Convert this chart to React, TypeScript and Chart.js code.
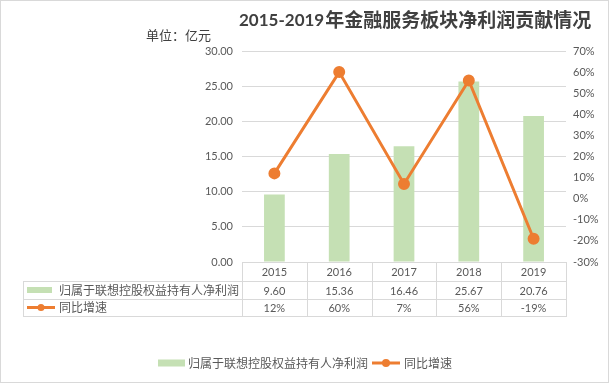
import React, { useEffect, useRef } from "react";
import { Chart, registerables } from "chart.js";

Chart.register(...registerables);

const categories = ["2015", "2016", "2017", "2018", "2019"];
const profitValues = [9.6, 15.36, 16.46, 25.67, 20.76];
const growthValues = [12, 60, 7, 56, -19];
const profitLabel = "归属于联想控股权益持有人净利润";
const growthLabel = "同比增速";
const titleYears = "2015-2019";
const titleText = "年金融服务板块净利润贡献情况";
const unitText = "单位：亿元";

const GREEN = "#C5E0B4";
const ORANGE = "#ED7D31";
const GRID = "#D9D9D9";
const TEXT = "#595959";
const NUM_FONT = "11px Lato, 'Noto Sans CJK SC'";
const CJK_FONT = "12px 'Noto Sans CJK SC'";

const tablePlugin = {
  id: "tablePlugin",
  beforeDraw(chart: any) {
    const { ctx, width, height } = chart;
    ctx.save();
    ctx.fillStyle = "#ffffff";
    ctx.fillRect(0, 0, width, height);
    ctx.restore();
  },
  afterDraw(chart: any) {
    const { ctx, chartArea, scales } = chart;
    const x = scales.x;
    const n = categories.length;
    const colW = (chartArea.right - chartArea.left) / n;
    const top = chartArea.bottom;
    const rows = [top, top + 19, top + 37, top + 54];
    const tableLeft = 23;
    ctx.save();
    // outer border
    ctx.strokeStyle = GRID;
    ctx.lineWidth = 1;
    ctx.strokeRect(0.5, 0.5, chart.width - 1, chart.height - 1);

    // table lines
    ctx.beginPath();
    for (let i = 0; i <= n; i++) {
      const px = Math.round(chartArea.left + i * colW) + 0.5;
      ctx.moveTo(px, rows[0]);
      ctx.lineTo(px, rows[3]);
    }
    ctx.moveTo(tableLeft + 0.5, rows[1]);
    ctx.lineTo(tableLeft + 0.5, rows[3]);
    for (let r = 1; r <= 3; r++) {
      ctx.moveTo(tableLeft, rows[r] + 0.5);
      ctx.lineTo(Math.round(chartArea.right) + 1, rows[r] + 0.5);
    }
    ctx.stroke();

    // table text
    ctx.fillStyle = TEXT;
    ctx.font = NUM_FONT;
    ctx.textAlign = "center";
    ctx.textBaseline = "middle";
    categories.forEach((c, i) => {
      const cx = x.getPixelForValue(i);
      ctx.fillText(c, cx, (rows[0] + rows[1]) / 2 + 1);
      ctx.fillText(profitValues[i].toFixed(2), cx, (rows[1] + rows[2]) / 2 + 1);
      ctx.fillText(growthValues[i] + "%", cx, (rows[2] + rows[3]) / 2 + 1);
    });

    // row keys
    ctx.textAlign = "left";
    ctx.font = CJK_FONT;
    const y2 = (rows[1] + rows[2]) / 2;
    const y3 = (rows[2] + rows[3]) / 2;
    ctx.fillStyle = GREEN;
    ctx.fillRect(27, y2 - 3, 25, 6);
    ctx.fillStyle = TEXT;
    ctx.fillText(profitLabel, 59, y2);
    ctx.strokeStyle = ORANGE;
    ctx.lineWidth = 3;
    ctx.beginPath();
    ctx.moveTo(27, y3);
    ctx.lineTo(55, y3);
    ctx.stroke();
    ctx.fillStyle = ORANGE;
    ctx.beginPath();
    ctx.arc(41, y3, 3.5, 0, Math.PI * 2);
    ctx.fill();
    ctx.fillStyle = TEXT;
    ctx.fillText(growthLabel, 59, y3);

    // bottom legend
    const ly = 363;
    ctx.fillStyle = GREEN;
    ctx.fillRect(158, ly - 3.5, 27, 7);
    ctx.fillStyle = TEXT;
    ctx.fillText(profitLabel, 188, ly);
    const w1 = ctx.measureText(profitLabel).width;
    const lx = 188 + w1 + 4;
    ctx.strokeStyle = ORANGE;
    ctx.lineWidth = 3;
    ctx.beginPath();
    ctx.moveTo(lx, ly);
    ctx.lineTo(lx + 28, ly);
    ctx.stroke();
    ctx.fillStyle = ORANGE;
    ctx.beginPath();
    ctx.arc(lx + 14, ly, 4, 0, Math.PI * 2);
    ctx.fill();
    ctx.fillStyle = TEXT;
    ctx.fillText(growthLabel, lx + 32, ly);

    // unit text
    ctx.fillStyle = "#404040";
    ctx.font = "13px 'Noto Sans CJK SC'";
    ctx.fillText(unitText, 146, 35);

    // title
    ctx.fillStyle = "#404040";
    ctx.font = "bold 17px Lato";
    ctx.fillText(titleYears, 239, 21);
    const tw = ctx.measureText(titleYears).width;
    ctx.font = "bold 19px 'Noto Sans CJK SC'";
    ctx.fillText(titleText, 239 + tw + 1, 20);
    ctx.restore();
  },
};

export default function App() {
  const ref = useRef<HTMLCanvasElement>(null);
  useEffect(() => {
    if (!ref.current) return;
    const chart = new Chart(ref.current, {
      type: "bar",
      data: {
        labels: categories,
        datasets: [
          {
            type: "line",
            label: growthLabel,
            data: growthValues,
            yAxisID: "y1",
            borderColor: ORANGE,
            backgroundColor: ORANGE,
            borderWidth: 3,
            pointRadius: 4.5,
            pointBackgroundColor: ORANGE,
            pointBorderColor: ORANGE,
            tension: 0,
            order: 0,
          } as any,
          {
            type: "bar",
            label: profitLabel,
            data: profitValues,
            yAxisID: "y",
            backgroundColor: GREEN,
            barPercentage: 0.32,
            categoryPercentage: 1,
            order: 1,
          },
        ],
      },
      options: {
        responsive: false,
        animation: false,
        layout: { padding: { left: 0, right: 0, top: 51, bottom: 121 } },
        plugins: {
          legend: { display: false },
          title: { display: false },
          tooltip: { enabled: false },
        },
        scales: {
          x: { display: false, offset: true },
          y: {
            position: "left",
            min: 0,
            max: 30,
            afterFit: (s: any) => {
              s.width = 242;
            },
            ticks: {
              stepSize: 5,
              padding: 9,
              color: TEXT,
              font: { family: "Lato", size: 11 },
              callback: (v: any) => Number(v).toFixed(2),
            },
            grid: { color: GRID, drawTicks: false },
            border: { display: false },
          },
          y1: {
            position: "right",
            min: -30,
            max: 70,
            afterFit: (s: any) => {
              s.width = 43;
            },
            ticks: {
              stepSize: 10,
              padding: 7,
              color: TEXT,
              font: { family: "Lato", size: 11 },
              callback: (v: any) => Math.round(Number(v)) + "%",
            },
            grid: { display: false, drawTicks: false },
            border: { display: false },
          },
        },
      },
      plugins: [tablePlugin],
    });
    return () => chart.destroy();
  }, []);
  return (
    <div style={{ position: "fixed", left: 0, top: 0, width: 609, height: 383, background: "#fff" }}>
      <canvas ref={ref} width={609} height={383} style={{ display: "block" }} />
    </div>
  );
}
